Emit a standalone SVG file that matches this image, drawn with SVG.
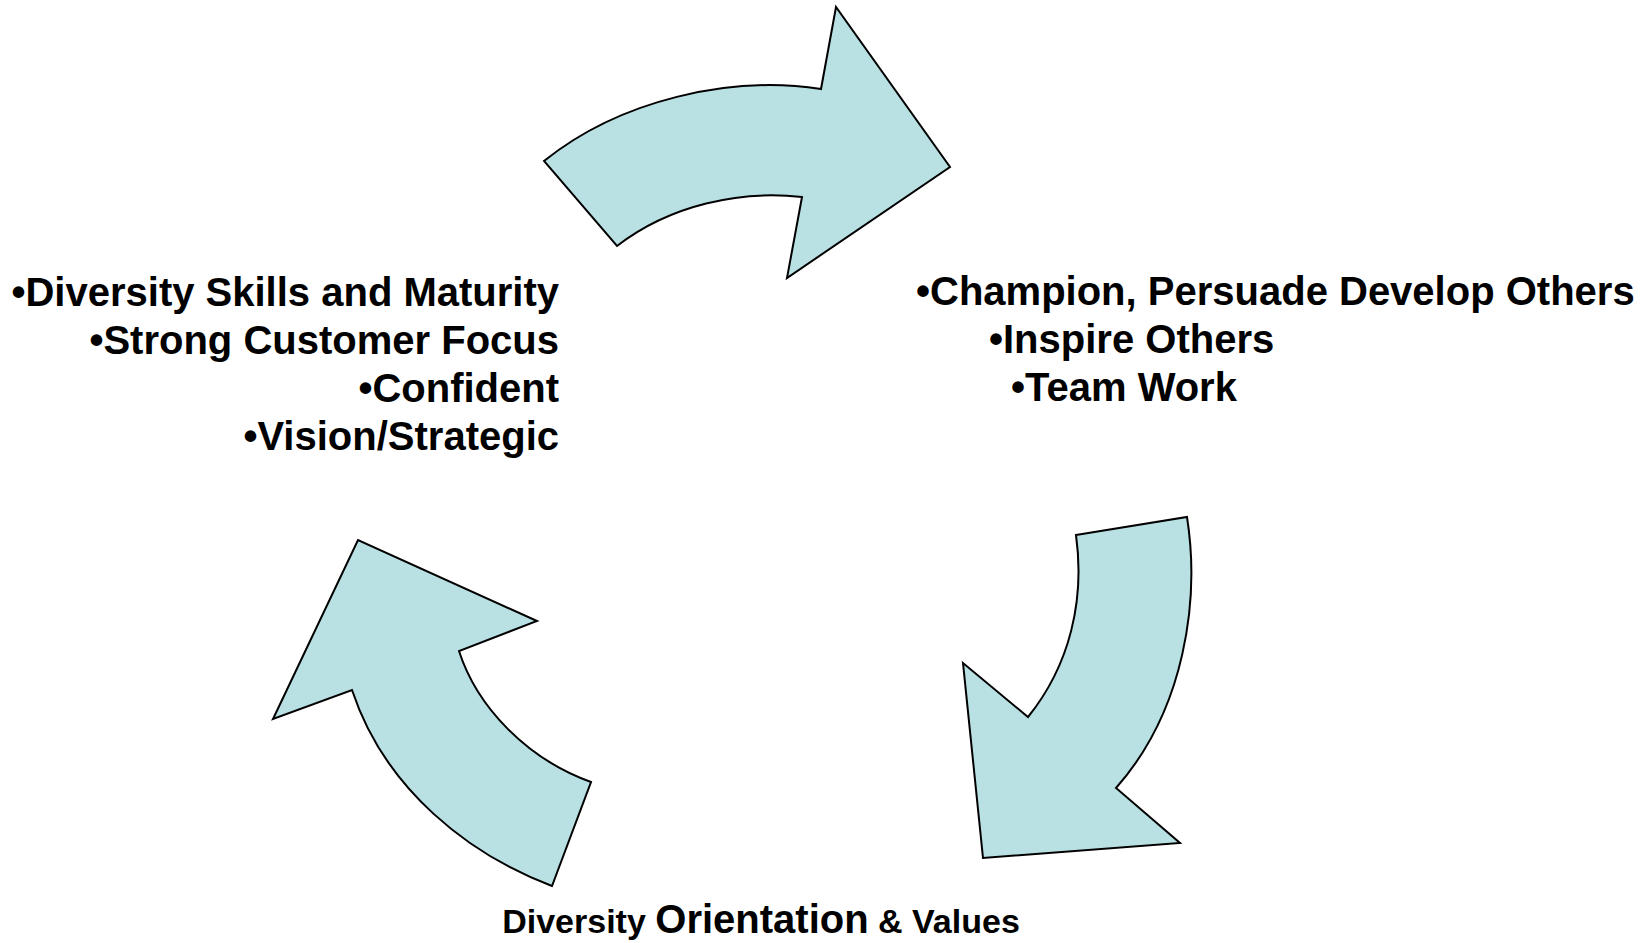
<svg xmlns="http://www.w3.org/2000/svg" width="1648" height="943" viewBox="0 0 1648 943">
<style>
.arrow{fill:#b9e0e3;stroke:#000;stroke-width:2;stroke-linejoin:miter}
.t{font-family:"Liberation Sans",Arial,sans-serif;font-weight:bold;fill:#000}
.big{font-size:40px}
.small{font-size:34px}
</style>
<rect width="1648" height="943" fill="#fff"/>
<g id="connectors">
<path id="arrow-top" class="arrow" d="M 544,161 C 620,100 730,75 821,89 L 836,7 L 950,167 L 787,278 L 802,197 C 740,190 670,205 617,246 Z"/>
<path id="arrow-right" class="arrow" d="M 1076,535 L 1187,517 C 1200,600 1185,710 1116,788 L 1180,843 L 983,858 L 963,663 L 1028,717 C 1070,665 1085,600 1076,535 Z"/>
<path id="arrow-left" class="arrow" d="M 552,886 C 470,855 385,790 352,690 L 273,719 L 358,540 L 537,621 L 459,651 C 477,707 527,759 591,782 Z"/>
</g>
<g id="node-left">
<text class="t big" text-anchor="end" x="559" y="306">•Diversity Skills and Maturity</text>
<text class="t big" text-anchor="end" x="559" y="354">•Strong Customer Focus</text>
<text class="t big" text-anchor="end" x="559" y="402">•Confident</text>
<text class="t big" text-anchor="end" x="559" y="450">•Vision/Strategic</text>
</g>
<g id="node-right">
<text class="t big" x="916" y="305">•Champion, Persuade Develop Others</text>
<text class="t big" x="989" y="353">•Inspire Others</text>
<text class="t big" x="1011" y="401">•Team Work</text>
</g>
<g id="node-bottom">
<text class="t" text-anchor="middle" x="761" y="933"><tspan class="small">Diversity </tspan><tspan class="big">Orientation</tspan><tspan class="small"> &amp; Values</tspan></text>
</g>
</svg>
